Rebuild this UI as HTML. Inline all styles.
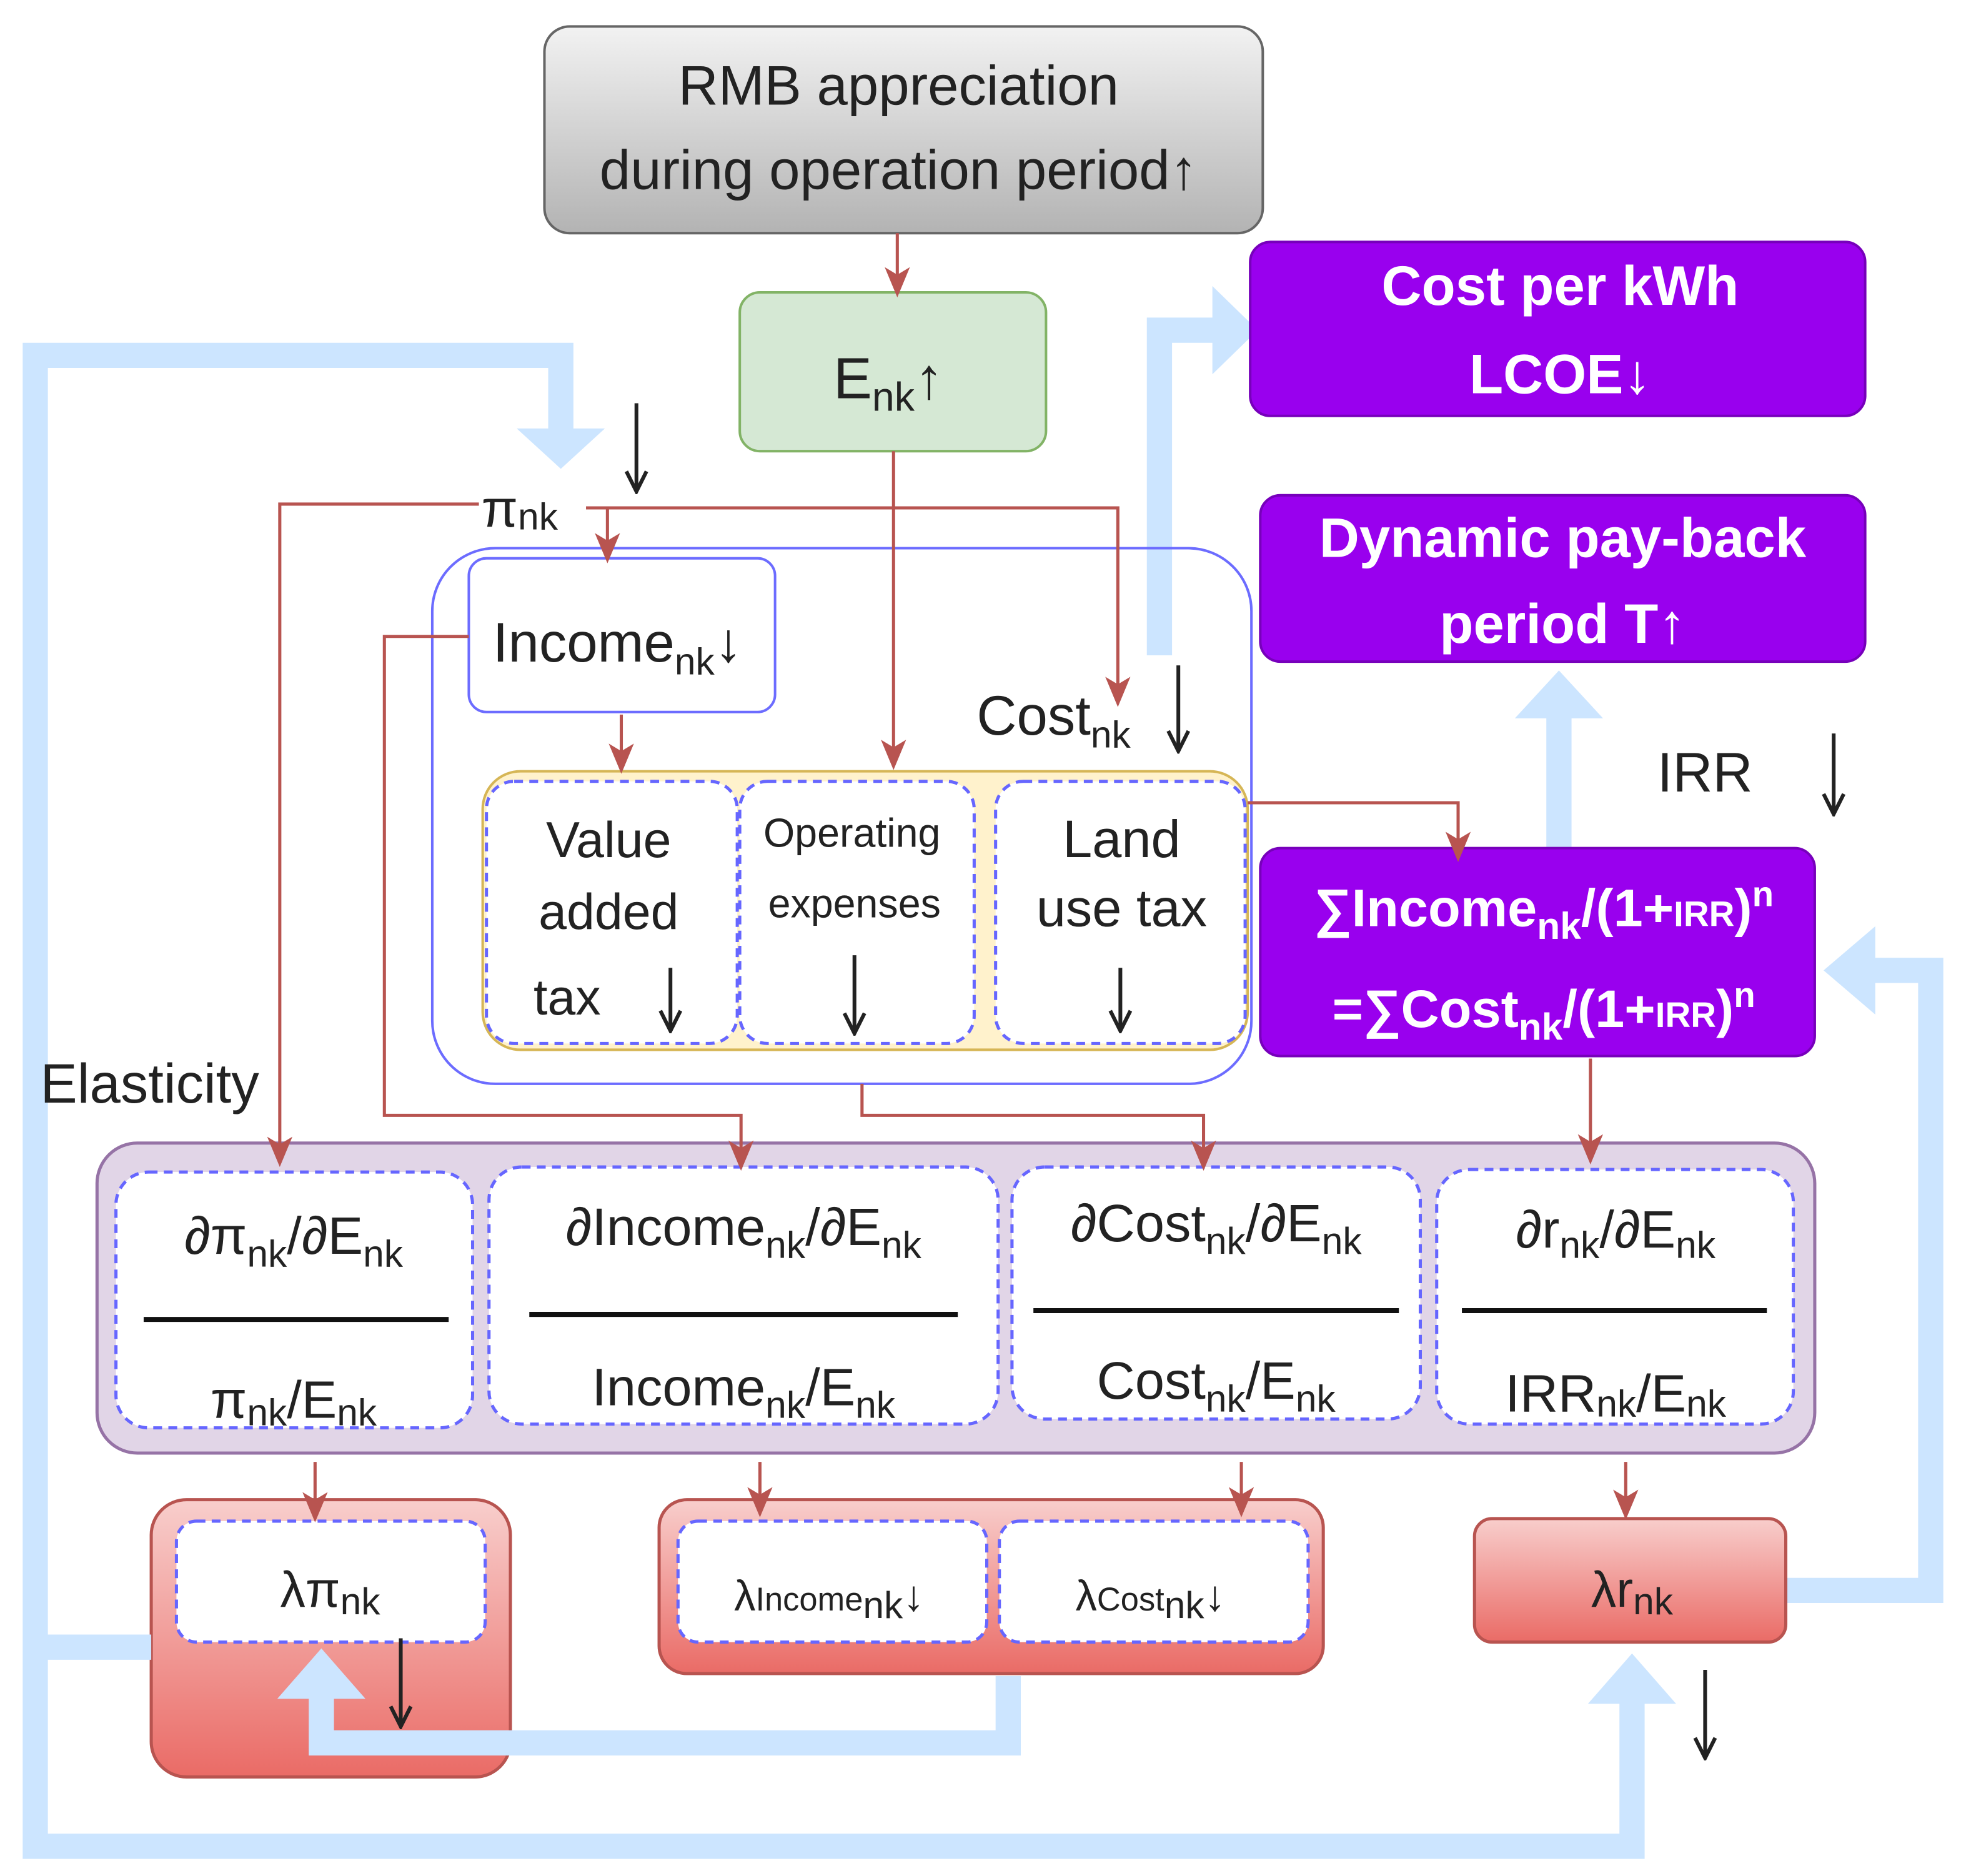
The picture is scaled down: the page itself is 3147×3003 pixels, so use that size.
<!DOCTYPE html>
<html><head><meta charset="utf-8"><style>
html,body{margin:0;padding:0;background:#fff}
svg{display:block}
text{font-family:"Liberation Sans",Arial,sans-serif;fill:#222}
.w{fill:#fff;font-weight:bold}
</style></head><body>
<svg width="3147" height="3003" viewBox="0 0 1560 1488.6" preserveAspectRatio="none" xmlns="http://www.w3.org/2000/svg">
<defs>
<linearGradient id="gg" x1="0" y1="0" x2="0" y2="1"><stop offset="0" stop-color="#f2f2f2"/><stop offset="1" stop-color="#b3b3b3"/></linearGradient>
<linearGradient id="rg" x1="0" y1="0" x2="0" y2="1"><stop offset="0" stop-color="#f8cecc"/><stop offset="1" stop-color="#ea6b66"/></linearGradient>
<marker id="rb" markerWidth="24" markerHeight="24" refX="20" refY="12" orient="auto" markerUnits="userSpaceOnUse"><path d="M0,2 L24,12 L0,22 L6,12 Z" fill="#b85450"/></marker>
<marker id="kb" markerWidth="20" markerHeight="20" refX="18" refY="10" orient="auto" markerUnits="userSpaceOnUse"><path d="M2,2 L18,10 L2,18" fill="none" stroke="#222" stroke-width="3"/></marker>
</defs>

<!-- light blue thick connectors (behind) -->
<g fill="none" stroke="#cce5ff" stroke-width="20">
<polyline points="445,345 445,282 28,282 28,1465 1295,1465 1295,1350"/>
<polyline points="920,520 920,262 965,262"/>
<polyline points="1237,678 1237,568"/>
<polyline points="1418,1262 1532,1262 1532,770 1485,770"/>
</g>
<g fill="#cce5ff">
<polygon points="410,340 480,340 445,372"/>
<polygon points="1260,1352 1330,1352 1295,1312"/>
<polygon points="962,227 962,297 998,262"/>
<polygon points="1202,570 1272,570 1237,532"/>
<polygon points="1488,735 1488,805 1447,770"/>
</g>

<!-- RMB box -->
<rect x="432" y="21" width="570" height="164" rx="20" fill="url(#gg)" stroke="#666" stroke-width="2"/>
<text x="713" y="83" font-size="44" text-anchor="middle">RMB appreciation</text>
<text x="713" y="150" font-size="44" text-anchor="middle">during operation period↑</text>

<!-- Enk -->
<rect x="587" y="232" width="243" height="126" rx="16" fill="#d5e8d4" stroke="#82b366" stroke-width="2"/>
<text x="705" y="316" font-size="46" text-anchor="middle">E<tspan font-size="32" dy="10">nk</tspan><tspan dy="-10">↑</tspan></text>

<!-- purple boxes -->
<rect x="992" y="192" width="488" height="138" rx="16" fill="#9900ee" stroke="#7700bb" stroke-width="2"/>
<text class="w" x="1238" y="242" font-size="44" text-anchor="middle">Cost per kWh</text>
<text class="w" x="1238" y="312" font-size="44" text-anchor="middle">LCOE↓</text>
<rect x="1000" y="393" width="480" height="132" rx="16" fill="#9900ee" stroke="#7700bb" stroke-width="2"/>
<text class="w" x="1240" y="442" font-size="44" text-anchor="middle">Dynamic pay-back</text>
<text class="w" x="1240" y="510" font-size="44" text-anchor="middle">period  T↑</text>
<rect x="1000" y="673" width="440" height="165" rx="16" fill="#9900ee" stroke="#7700bb" stroke-width="2"/>
<text class="w" x="1225" y="735" font-size="42" text-anchor="middle">∑Income<tspan font-size="30" dy="10">nk</tspan><tspan dy="-10">/(1+</tspan><tspan font-size="28">IRR</tspan>)<tspan font-size="28" dy="-16">n</tspan></text>
<text class="w" x="1225" y="815" font-size="42" text-anchor="middle">=∑Cost<tspan font-size="30" dy="10">nk</tspan><tspan dy="-10">/(1+</tspan><tspan font-size="28">IRR</tspan>)<tspan font-size="28" dy="-16">n</tspan></text>

<!-- big blue container -->
<rect x="343" y="435" width="650" height="425" rx="50" fill="none" stroke="#6c6cff" stroke-width="2"/>
<rect x="372" y="443" width="243" height="122" rx="14" fill="#fff" stroke="#6c6cff" stroke-width="2"/>
<text x="490" y="525" font-size="44" text-anchor="middle">Income<tspan font-size="30" dy="10">nk</tspan><tspan dy="-10">↓</tspan></text>
<text x="775" y="583" font-size="44">Cost<tspan font-size="30" dy="10">nk</tspan></text>

<rect x="383" y="612" width="607" height="221" rx="30" fill="#fff2cc" stroke="#d6b656" stroke-width="2"/>
<g fill="#fff" stroke="#6666ff" stroke-width="2.5" stroke-dasharray="7,5">
<rect x="386" y="620" width="199" height="208" rx="22"/>
<rect x="587" y="620" width="186" height="208" rx="22"/>
<rect x="790" y="620" width="198" height="208" rx="22"/>
</g>
<text x="483" y="680" font-size="40" text-anchor="middle">Value</text>
<text x="483" y="737" font-size="40" text-anchor="middle">added</text>
<text x="450" y="805" font-size="40" text-anchor="middle">tax</text>
<text x="676" y="672" font-size="32" text-anchor="middle">Operating</text>
<text x="678" y="728" font-size="32" text-anchor="middle">expenses</text>
<text x="890" y="680" font-size="42" text-anchor="middle">Land</text>
<text x="890" y="735" font-size="42" text-anchor="middle">use tax</text>

<!-- labels -->
<text x="382" y="418" font-size="42">π<tspan font-size="30" dy="2">nk</tspan></text>
<text x="1315" y="628" font-size="44">IRR</text>
<text x="32" y="875" font-size="44">Elasticity</text>

<!-- elasticity container -->
<rect x="77" y="907" width="1363" height="246" rx="32" fill="#e1d5e7" stroke="#9673a6" stroke-width="2.5"/>
<g fill="#fff" stroke="#6666ff" stroke-width="2.5" stroke-dasharray="7,5">
<rect x="92" y="930" width="283" height="203" rx="26"/>
<rect x="388" y="926" width="404" height="204" rx="26"/>
<rect x="803" y="926" width="324" height="200" rx="26"/>
<rect x="1140" y="928" width="283" height="202" rx="26"/>
</g>
<g font-size="42" text-anchor="middle">
<text x="233" y="995">∂π<tspan font-size="30" dy="10">nk</tspan><tspan dy="-10">/∂E</tspan><tspan font-size="30" dy="10">nk</tspan></text>
<text x="233" y="1125">π<tspan font-size="30" dy="6">nk</tspan><tspan dy="-6">/E</tspan><tspan font-size="30" dy="6">nk</tspan></text>
<text x="590" y="988">∂Income<tspan font-size="30" dy="10">nk</tspan><tspan dy="-10">/∂E</tspan><tspan font-size="30" dy="10">nk</tspan></text>
<text x="590" y="1115">Income<tspan font-size="30" dy="10">nk</tspan><tspan dy="-10">/E</tspan><tspan font-size="30" dy="10">nk</tspan></text>
<text x="965" y="985">∂Cost<tspan font-size="30" dy="10">nk</tspan><tspan dy="-10">/∂E</tspan><tspan font-size="30" dy="10">nk</tspan></text>
<text x="965" y="1110">Cost<tspan font-size="30" dy="10">nk</tspan><tspan dy="-10">/E</tspan><tspan font-size="30" dy="10">nk</tspan></text>
<text x="1282" y="990">∂r<tspan font-size="30" dy="8">nk</tspan><tspan dy="-8">/∂E</tspan><tspan font-size="30" dy="8">nk</tspan></text>
<text x="1282" y="1120">IRR<tspan font-size="30" dy="4">nk</tspan><tspan dy="-4">/E</tspan><tspan font-size="30" dy="4">nk</tspan></text>
</g>
<g stroke="#111" stroke-width="4">
<line x1="114" y1="1047" x2="356" y2="1047"/>
<line x1="420" y1="1043" x2="760" y2="1043"/>
<line x1="820" y1="1040" x2="1110" y2="1040"/>
<line x1="1160" y1="1040" x2="1402" y2="1040"/>
</g>

<!-- lambda boxes -->
<rect x="120" y="1190" width="285" height="220" rx="28" fill="url(#rg)" stroke="#b85450" stroke-width="2.5"/>
<rect x="140" y="1207" width="245" height="96" rx="16" fill="#fff" stroke="#6666ff" stroke-width="2.5" stroke-dasharray="7,5"/>
<text x="262" y="1275" font-size="40" text-anchor="middle">λπ<tspan font-size="30" dy="6">nk</tspan></text>

<rect x="523" y="1190" width="527" height="138" rx="22" fill="url(#rg)" stroke="#b85450" stroke-width="2.5"/>
<rect x="538" y="1207" width="245" height="96" rx="16" fill="#fff" stroke="#6666ff" stroke-width="2.5" stroke-dasharray="7,5"/>
<rect x="793" y="1207" width="245" height="96" rx="16" fill="#fff" stroke="#6666ff" stroke-width="2.5" stroke-dasharray="7,5"/>
<text x="658" y="1278" font-size="34" text-anchor="middle">λ<tspan font-size="26">Income</tspan><tspan font-size="30" dy="6">nk</tspan><tspan dy="-6">↓</tspan></text>
<text x="913" y="1278" font-size="34" text-anchor="middle">λ<tspan font-size="26">Cost</tspan><tspan font-size="30" dy="6">nk</tspan><tspan dy="-6">↓</tspan></text>

<rect x="1170" y="1205" width="247" height="98" rx="14" fill="url(#rg)" stroke="#b85450" stroke-width="2.5"/>
<text x="1295" y="1275" font-size="40" text-anchor="middle">λr<tspan font-size="30" dy="6">nk</tspan></text>

<!-- blue connectors over boxes -->
<g fill="none" stroke="#cce5ff" stroke-width="20">
<polyline points="120,1307 28,1307"/>
<polyline points="800,1330 800,1383 255,1383 255,1345"/>
</g>
<polygon points="220,1348 290,1348 255,1308" fill="#cce5ff"/>

<!-- red connectors (on top) -->
<g fill="none" stroke="#b85450" stroke-width="2.5" marker-end="url(#rb)">
<line x1="712" y1="185" x2="712" y2="232"/>
<polyline points="380,400 222,400 222,922"/>
<polyline points="465,403 887,403 887,557"/>
<polyline points="482,403 482,443"/>
<line x1="709" y1="358" x2="709" y2="607"/>
<polyline points="372,505 305,505 305,885 588,885 588,925"/>
<line x1="493" y1="567" x2="493" y2="610"/>
<polyline points="990,637 1157,637 1157,680"/>
<polyline points="684,860 684,885 955,885 955,925"/>
<polyline points="1262,840 1262,920"/>
<line x1="250" y1="1160" x2="250" y2="1204"/>
<line x1="603" y1="1160" x2="603" y2="1200"/>
<line x1="985" y1="1160" x2="985" y2="1200"/>
<line x1="1290" y1="1160" x2="1290" y2="1202"/>
</g>

<!-- black down arrows -->
<g stroke="#222" stroke-width="3" marker-end="url(#kb)">
<line x1="505" y1="320" x2="505" y2="390"/>
<line x1="935" y1="528" x2="935" y2="596"/>
<line x1="1455" y1="582" x2="1455" y2="646"/>
<line x1="532" y1="768" x2="532" y2="818"/>
<line x1="678" y1="758" x2="678" y2="820"/>
<line x1="889" y1="768" x2="889" y2="818"/>
<line x1="318" y1="1300" x2="318" y2="1370"/>
<line x1="1353" y1="1325" x2="1353" y2="1395"/>
</g>
</svg>
</body></html>
